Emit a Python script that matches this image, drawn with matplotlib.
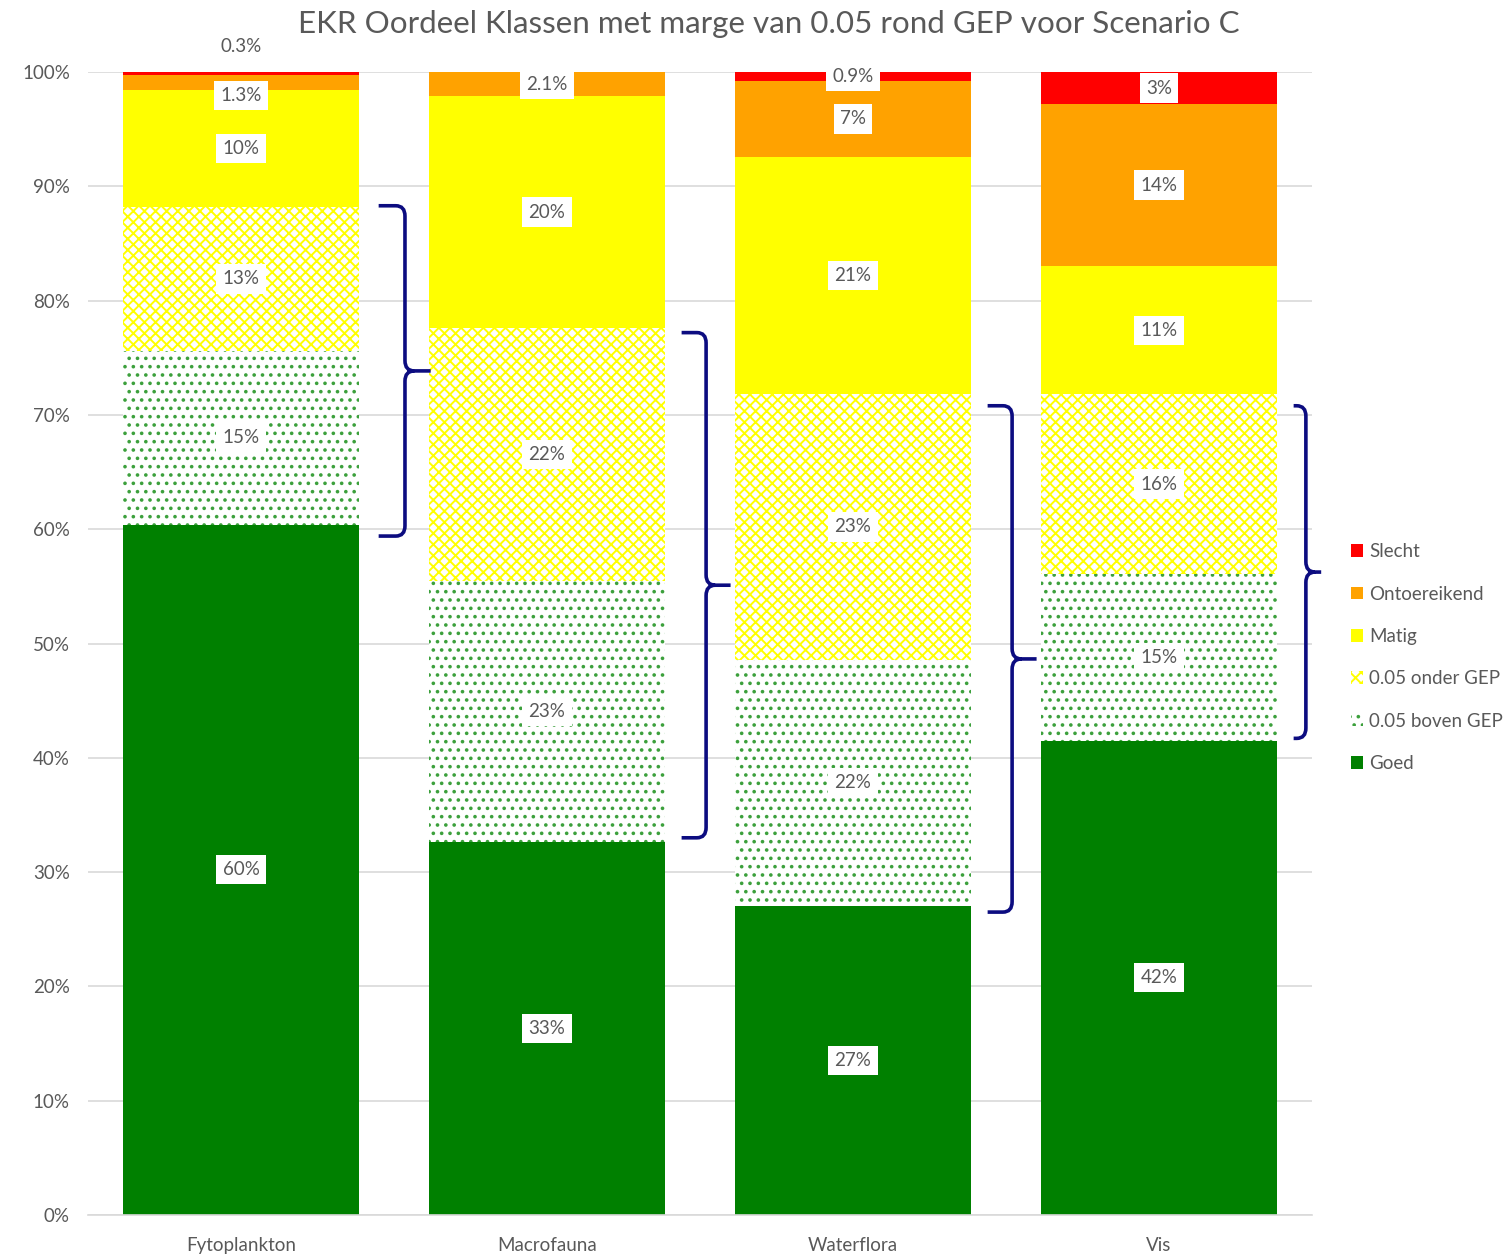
import numpy as np
import matplotlib.pyplot as plt
from matplotlib.patches import Patch, PathPatch
from matplotlib.path import Path

plt.rcParams['font.family'] = ['Lato', 'DejaVu Sans']
plt.rcParams['hatch.linewidth'] = 1.4

# Percentages per EKR class, one value per group (bars)
groups = ['Fytoplankton', 'Macrofauna', 'Waterflora', 'Vis']
goed = [60.4, 32.6, 27.0, 41.5]
boven_gep = [15.2, 22.9, 21.6, 14.6]
onder_gep = [12.6, 22.1, 23.2, 15.7]
matig = [10.2, 20.3, 20.8, 11.2]
ontoereikend = [1.3, 2.1, 6.6, 14.2]
slecht = [0.3, 0.0, 0.9, 2.8]

classes = [
    ('Goed', goed, dict(color='#008000')),
    ('0.05 boven GEP', boven_gep, dict(facecolor='white', edgecolor='#3ca03c', hatch='..')),
    ('0.05 onder GEP', onder_gep, dict(facecolor='white', edgecolor='#ffff00', hatch='xxx')),
    ('Matig', matig, dict(color='#ffff00')),
    ('Ontoereikend', ontoereikend, dict(color='#ffa200')),
    ('Slecht', slecht, dict(color='#ff0000')),
]

grey = '#595959'
fig = plt.figure(figsize=(15.11, 12.55), dpi=100)
ax = fig.add_axes([0.0582, 0.0319, 0.8101, 0.9107])

x = np.arange(len(groups))
width = 0.77
bottom = np.zeros(len(groups))
handles = []
for name, vals, style in classes:
    vals = np.array(vals)
    ax.bar(x, vals, width, bottom=bottom, linewidth=0, zorder=2, **style)
    for i, v in enumerate(vals):
        if v <= 0:
            continue
        txt = f'{v:.1f}%' if v < 2.5 else f'{v:.0f}%'
        y = bottom[i] + v / 2
        box = dict(facecolor='white', edgecolor='none', pad=4.5)
        if name == 'Slecht' and i == 0:
            # too thin: put the label above the bar
            y, box = 102.2, None
        elif name == 'Ontoereikend' and i == 0:
            y -= 1.1
        ax.text(x[i], y, txt, ha='center', va='center', fontsize=13.5,
                color=grey, bbox=box, zorder=4)
    bottom += vals
    handles.append(Patch(label=name, linewidth=0, **style))

# Curly braces round the two GEP margin classes
def brace(xc, y0, y1, x_end, x_line, x_tip):
    rx, ry = 0.03, 0.9
    ym = (y0 + y1) / 2
    verts = [(xc + x_end, y1), (xc + x_line - rx, y1), (xc + x_line, y1), (xc + x_line, y1 - ry),
             (xc + x_line, ym + ry), (xc + x_line, ym), (xc + x_line + rx, ym),
             (xc + x_tip, ym), (xc + x_line + rx, ym),
             (xc + x_line, ym), (xc + x_line, ym - ry),
             (xc + x_line, y0 + ry), (xc + x_line, y0), (xc + x_line - rx, y0),
             (xc + x_end, y0)]
    codes = [Path.MOVETO, Path.LINETO, Path.CURVE3, Path.CURVE3,
             Path.LINETO, Path.CURVE3, Path.CURVE3,
             Path.LINETO, Path.MOVETO,
             Path.CURVE3, Path.CURVE3,
             Path.LINETO, Path.CURVE3, Path.CURVE3,
             Path.LINETO]
    ax.add_patch(PathPatch(Path(verts, codes), facecolor='none', edgecolor='#0c0c80',
                           linewidth=2.6, capstyle='butt', zorder=5, clip_on=False))

# x offsets (end, spine, tip) and small y padding (bottom, top) per brace
brace_x = [(0.45, 0.536, 0.62), (0.44, 0.52, 0.60), (0.44, 0.52, 0.60), (0.44, 0.48, 0.53)]
brace_pad = [(-1.0, 0.1), (0.4, -0.4), (-0.5, -1.0), (0.2, -1.0)]
for i in range(len(groups)):
    lo = goed[i] + brace_pad[i][0]
    hi = goed[i] + boven_gep[i] + onder_gep[i] + brace_pad[i][1]
    brace(x[i], lo, hi, *brace_x[i])

ax.set_xlim(-0.5, 3.5)
ax.set_ylim(0, 100)
ax.set_yticks(np.arange(0, 101, 10))
ax.set_yticklabels([f'{t}%' for t in range(0, 101, 10)])
ax.set_xticks(x)
ax.set_xticklabels(groups)
ax.tick_params(length=0, labelsize=13.5, colors=grey)
ax.tick_params(axis='y', pad=13)
ax.tick_params(axis='x', pad=16)
ax.grid(axis='y', color='#d9d9d9', linewidth=1.2, zorder=0)
ax.set_axisbelow(True)
for s in ['top', 'right', 'left']:
    ax.spines[s].set_visible(False)
ax.spines['bottom'].set_color('#d9d9d9')
ax.spines['bottom'].set_linewidth(1.2)

fig.text(0.509, 0.981, 'EKR Oordeel Klassen met marge van 0.05 rond GEP voor Scenario C',
         ha='center', va='center', fontsize=22.6, color=grey)

fig.legend(handles=handles[::-1], loc='center left', bbox_to_anchor=(0.883, 0.476),
           frameon=False, fontsize=13.5, labelcolor=grey, handlelength=0.65,
           handleheight=0.65, handletextpad=0.3, labelspacing=1.35)

fig.savefig('out.png', dpi=100)
